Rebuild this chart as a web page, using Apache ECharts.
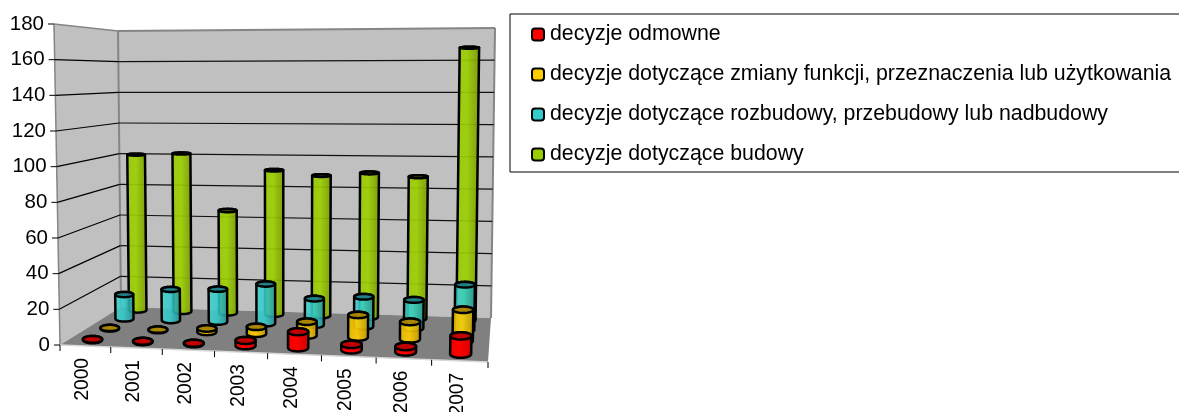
<!DOCTYPE html>
<html>
<head>
<meta charset="utf-8">
<title>decyzje</title>
<style>
html, body { margin: 0; padding: 0; background: #fff; }
#main { width: 1179px; height: 412px; }
</style>
<script src="https://cdn.jsdelivr.net/npm/echarts@6/dist/echarts.min.js"></script>
</head>
<body>
<div id="main"></div>
<script>
var years = ['2000', '2001', '2002', '2003', '2004', '2005', '2006', '2007'];
var yTicks = [0, 20, 40, 60, 80, 100, 120, 140, 160, 180];
var odmowne = [0.3, 0.3, 0.3, 3, 9, 3, 3, 10];
var zmiany = [0.3, 0.3, 2, 4, 8, 13, 10, 18];
var rozbudowy = [15, 19, 20, 24, 16, 18, 17, 27];
var budowy = [100, 101, 65, 91, 88, 90, 88, 168];

var nameOdmowne = 'decyzje odmowne';
var nameZmiany = 'decyzje dotyczące zmiany funkcji, przeznaczenia lub użytkowania';
var nameRozbudowy = 'decyzje dotyczące rozbudowy, przebudowy lub nadbudowy';
var nameBudowy = 'decyzje dotyczące budowy';

// hidden grid: the axes give u (along the years) and v (height), the box below bends them into the 3D view
var gridLeft = 60, gridTop = 24, gridW = 428, gridH = 321;

// corners: front-left, front-right, back-right, back-left
var floorQuad = [[60, 345], [488, 362], [491, 318], [121, 307]];
var roofQuad = [[54, 24], [494, 30], [495, 28], [118, 31]];

// foreshortening taken from the floor, the roof is almost edge-on so it just shares it
var persp = (function(q) {
	var dx1 = q[1][0] - q[2][0], dx2 = q[3][0] - q[2][0], sx = q[0][0] - q[1][0] + q[2][0] - q[3][0];
	var dy1 = q[1][1] - q[2][1], dy2 = q[3][1] - q[2][1], sy = q[0][1] - q[1][1] + q[2][1] - q[3][1];
	var det = dx1 * dy2 - dx2 * dy1;
	// g is eased a bit, the ticks on the front edge widen slower than the quad says
	return { g: 0.6 * (sx * dy2 - dx2 * sy) / det, h: (dx1 * sy - sx * dy1) / det };
})(floorQuad);

function bilinear(q, s, t) {
	var ax = q[0][0] + (q[1][0] - q[0][0]) * s, ay = q[0][1] + (q[1][1] - q[0][1]) * s;
	var bx = q[3][0] + (q[2][0] - q[3][0]) * s, by = q[3][1] + (q[2][1] - q[3][1]) * s;
	return [ax + (bx - ax) * t, ay + (by - ay) * t];
}

function view(u, w, v) {
	var s = u * (1 + persp.g) / (1 + persp.g * u);
	var t = w * (1 + persp.h) / (1 + persp.h * w);
	var f = bilinear(floorQuad, s, t), r = bilinear(roofQuad, s, t);
	return [f[0] + (r[0] - f[0]) * v, f[1] + (r[1] - f[1]) * v];
}
function heightOf(api, val) {
	return (gridTop + gridH - api.coord([0, val])[1]) / gridH;
}

function line(p, q, color, width) {
	return {
		type: 'line',
		shape: { x1: p[0], y1: p[1], x2: q[0], y2: q[1] },
		style: { stroke: color, lineWidth: width }
	};
}
function poly(points, fill) {
	return { type: 'polygon', shape: { points: points }, style: { fill: fill } };
}

function renderBox(params, api) {
	var edge = '#858585', kids = [];
	kids.push(poly([view(0, 0, 0), view(0, 1, 0), view(0, 1, 1), view(0, 0, 1)], '#c0c0c0'));
	kids.push(poly([view(0, 1, 0), view(1, 1, 0), view(1, 1, 1), view(0, 1, 1)], '#c0c0c0'));
	kids.push(poly([view(0, 0, 0), view(1, 0, 0), view(1, 1, 0), view(0, 1, 0)], '#808080'));
	kids.push(line(view(0, 0, 0), view(0, 0, 1), edge, 1.5));
	kids.push(line(view(0, 0, 1), view(0, 1, 1), edge, 1.5));
	kids.push(line(view(0, 1, 0), view(0, 1, 1), edge, 2));
	kids.push(line(view(0, 1, 1), view(1, 1, 1), edge, 2));
	kids.push(line(view(1, 1, 1), view(1, 1, 0), edge, 2));
	kids.push(line(view(0, 0, 0), view(1, 0, 0), '#d8d8d8', 1.5));
	return { type: 'group', children: kids };
}

function renderTick(params, api) {
	var v = heightOf(api, api.value(1));
	var a = view(0, 0, v), b = view(0, 1, v), c = view(1, 1, v), kids = [];
	if (api.value(1) > 0 && api.value(1) < 180) {
		kids.push(line(a, b, '#000', 1.2));
		kids.push(line(b, c, '#111', 1.2));
	}
	kids.push(line([a[0] - 6, a[1]], a, '#000', 1));
	kids.push({
		type: 'text',
		style: {
			x: a[0] - 10, y: a[1], text: String(api.value(1)), fill: '#000',
			font: '20.5px "Liberation Sans"', align: 'right', verticalAlign: 'middle'
		}
	});
	return { type: 'group', children: kids };
}

function renderYear(params, api) {
	var i = api.value(0), kids = [];
	var u0 = i / 8, u1 = (i + 1) / 8;
	var p0 = view(u0, 0, 0), p1 = view(u1, 0, 0);
	kids.push(line(p0, [p0[0], p0[1] + 6], '#000', 1));
	if (i === years.length - 1) {
		kids.push(line(p1, [p1[0], p1[1] + 6], '#000', 1));
	}
	var m = view((u0 + u1) / 2, 0, 0);
	kids.push({
		type: 'text',
		x: m[0] - 3,
		y: m[1] + 12,
		rotation: Math.PI / 2,
		scaleX: 0.91,
		style: {
			text: years[i], fill: '#000', font: '21px "Liberation Sans"',
			align: 'right', verticalAlign: 'middle'
		}
	});
	return { type: 'group', children: kids };
}

function ellipse(c, rx, ry, from, to, n) {
	var pts = [], k, t;
	for (k = 0; k <= n; k++) {
		t = from + (to - from) * k / n;
		pts.push([c[0] + rx * Math.cos(t), c[1] + ry * Math.sin(t)]);
	}
	return pts;
}

function cylinder(depth, bright, mid, dark, capFill) {
	var radiusU = 0.02, radiusW = 0.08, extraX = 1.7;
	return function(params, api) {
		var u = (api.coord([api.value(0), 0])[0] - gridLeft) / gridW;
		u -= 0.005 * (1 - u); // columns sit a little left of the band centre at the near end
		var v = heightOf(api, api.value(1));
		var c0 = view(u, depth, 0), c1 = view(u, depth, v);
		var rx0 = extraX + (view(u + radiusU, depth, 0)[0] - view(u - radiusU, depth, 0)[0]) / 2;
		var rx1 = extraX + (view(u + radiusU, depth, v)[0] - view(u - radiusU, depth, v)[0]) / 2;
		var ry0 = Math.abs(view(u, depth - radiusW, 0)[1] - view(u, depth + radiusW, 0)[1]) / 2;
		var ry1 = Math.max(1, Math.abs(view(u, depth - radiusW, v)[1] - view(u, depth + radiusW, v)[1]) / 2);
		// screen y points down, so 0..PI is the near half of the foot and PI..2PI the far half of the top
		var base = ellipse(c0, rx0, ry0, Math.PI, 0, 24);
		var top = ellipse(c1, rx1, ry1, 0, -Math.PI, 24);
		var cap = ellipse(c1, rx1, ry1, 0, 2 * Math.PI, 48);
		cap.pop();
		var fill = new echarts.graphic.LinearGradient(0, 0, 1, 0, [
			{ offset: 0, color: bright },
			{ offset: 0.45, color: mid },
			{ offset: 1, color: dark }
		]);
		var body = {
			type: 'polygon',
			shape: { points: base.concat(top) },
			style: { fill: fill, stroke: '#000', lineWidth: 2.5, lineJoin: 'round' }
		};
		var lid = {
			type: 'polygon',
			shape: { points: cap },
			style: { fill: capFill, stroke: '#000', lineWidth: 2.5, lineJoin: 'round' }
		};
		return { type: 'group', children: [body, lid] };
	};
}

function pairs(values) {
	return values.map(function(v, i) { return [i, v]; });
}

var myChart = echarts.init(document.getElementById('main'));
var option = {
	animation: false,
	grid: { left: gridLeft, top: gridTop, width: gridW, height: gridH },
	xAxis: { type: 'category', data: years, show: false },
	yAxis: { type: 'value', min: 0, max: 180, interval: 20, show: false },
	legend: {
		left: 510,
		top: 14,
		orient: 'vertical',
		padding: [10, 60, 7, 21],
		itemWidth: 12,
		itemHeight: 12,
		itemGap: 19,
		borderColor: '#000',
		borderWidth: 1,
		icon: 'roundRect',
		itemStyle: { borderColor: '#000', borderWidth: 2 },
		textStyle: { color: '#000', fontFamily: 'Liberation Sans', fontSize: 21.33, padding: [0, 0, 0, 1] },
		data: [
			{ name: nameOdmowne, itemStyle: { color: '#ff0000' } },
			{ name: nameZmiany, itemStyle: { color: '#ffcc00' } },
			{ name: nameRozbudowy, itemStyle: { color: '#33cccc' } },
			{ name: nameBudowy, itemStyle: { color: '#99cc00' } }
		]
	},
	series: [
		{ type: 'custom', silent: true, clip: false, renderItem: renderBox, data: [[0, 0]] },
		{ type: 'custom', silent: true, clip: false, renderItem: renderTick, data: yTicks.map(function(t) { return [0, t]; }) },
		{ type: 'custom', silent: true, clip: false, renderItem: renderYear, data: pairs(years.map(function() { return 0; })) },
		{
			type: 'custom', name: nameBudowy, clip: false, color: '#99cc00',
			renderItem: cylinder(0.93, 'rgba(150,200,0,0.9)', 'rgba(156,208,0,0.92)', 'rgba(118,150,0,0.92)', '#4a6000'),
			data: pairs(budowy)
		},
		{
			type: 'custom', name: nameRozbudowy, clip: false, color: '#33cccc',
			renderItem: cylinder(0.68, 'rgba(70,205,205,0.88)', 'rgba(51,204,204,0.88)', 'rgba(35,140,145,0.9)', '#1f8088'),
			data: pairs(rozbudowy)
		},
		{
			type: 'custom', name: nameZmiany, clip: false, color: '#ffcc00',
			renderItem: cylinder(0.42, 'rgba(225,180,0,0.92)', 'rgba(255,204,0,0.92)', 'rgba(190,150,0,0.92)', '#a88600'),
			data: pairs(zmiany)
		},
		{
			type: 'custom', name: nameOdmowne, clip: false, color: '#ff0000',
			renderItem: cylinder(0.14, '#f00000', '#ff0000', '#c80000', '#c00000'),
			data: pairs(odmowne)
		}
	]
};
myChart.setOption(option);
</script>
</body>
</html>
